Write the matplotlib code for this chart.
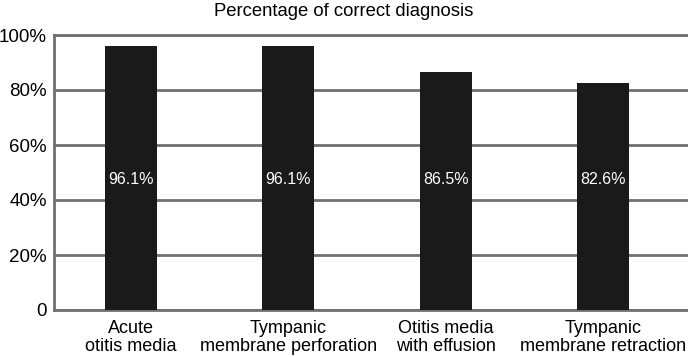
import matplotlib
matplotlib.use("Agg")
import matplotlib.pyplot as plt
import numpy as np

plt.rcParams['font.family'] = ['Liberation Sans', 'DejaVu Sans']

# data
categories = ["Acute\notitis media", "Tympanic\nmembrane perforation",
              "Otitis media\nwith effusion", "Tympanic\nmembrane retraction"]
values = [96.1, 96.1, 86.5, 82.6]
yticks = [0, 20, 40, 60, 80, 100]
ytick_labels = ["0", "20%", "40%", "60%", "80%", "100%"]

grey = "#707070"

fig = plt.figure(figsize=(6.88, 3.57), dpi=100)
ax = fig.add_axes([54 / 688, 1 - 310 / 357, 634 / 688, 275 / 357])

x = np.arange(len(categories))
ax.bar(x, values, width=0.33, color="#1a1a1a", zorder=3)
# value labels all sit at the same height inside the bars
for xi, v in zip(x, values):
    ax.text(xi, 47.3, f"{v}%", color="white", ha="center", va="center",
            fontsize=11.5, zorder=4)

ax.set_xlim(-0.49, 3.54)
ax.set_ylim(0, 100)
ax.set_yticks(yticks)
ax.set_yticklabels(ytick_labels, fontsize=13.5)
ax.set_xticks(x)
ax.set_xticklabels(categories, fontsize=13, linespacing=1.1)
ax.tick_params(axis='both', length=0)
ax.tick_params(axis='y', pad=5)
ax.tick_params(axis='x', pad=7)
ax.yaxis.grid(True, color=grey, linewidth=2, zorder=1)

for side in ['left', 'top', 'bottom']:
    ax.spines[side].set_color(grey)
    ax.spines[side].set_linewidth(2)
ax.spines['right'].set_visible(False)

fig.text(0.5, 1 - 12 / 357, "Percentage of correct diagnosis", ha="center",
         va="center", fontsize=13.3)

fig.savefig("out.png", dpi=100)
